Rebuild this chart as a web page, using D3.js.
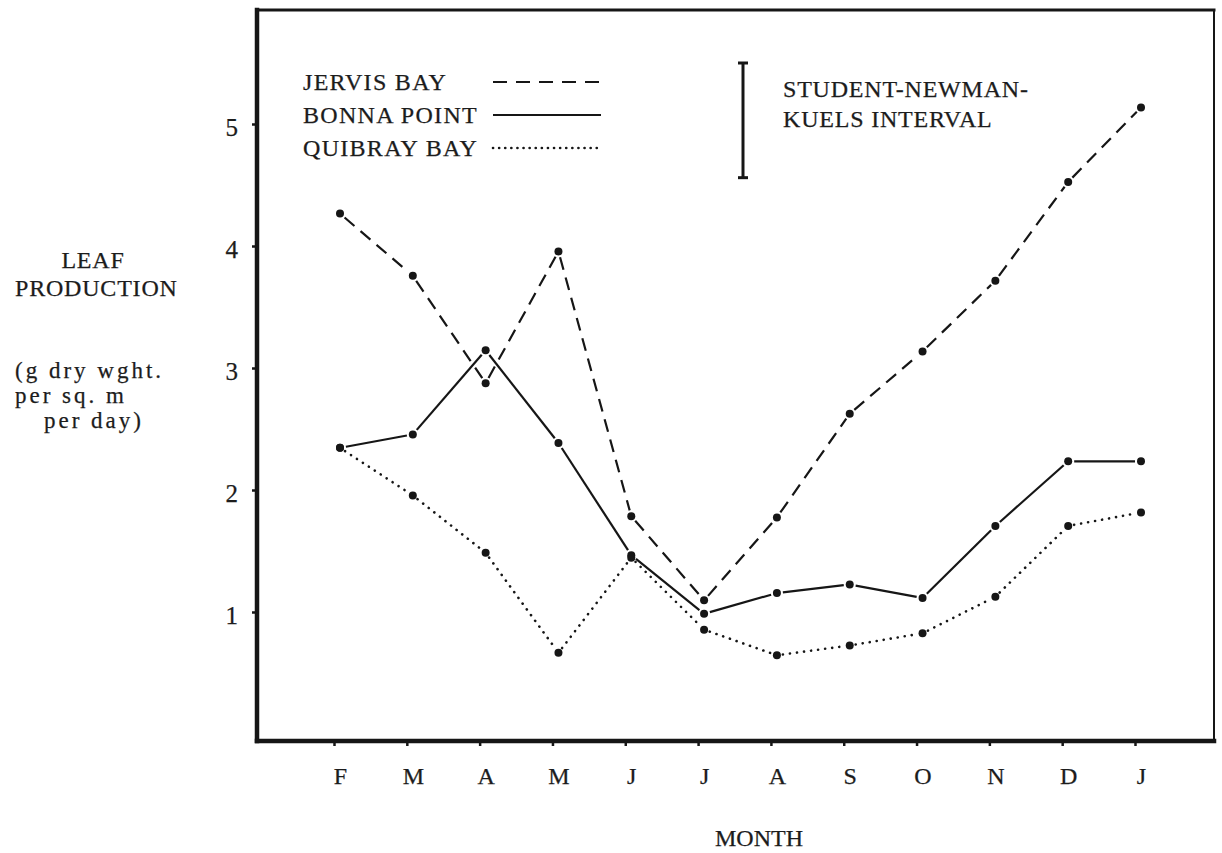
<!DOCTYPE html>
<html>
<head>
<meta charset="utf-8">
<script src="https://cdn.jsdelivr.net/npm/d3@7"></script>
<style>
body { margin: 0; background: #fff; }
svg text {
  font-family: "Liberation Serif", "Times New Roman", serif;
  font-size: 24px;
  fill: #1c1c1c;
  stroke: #1c1c1c;
  stroke-width: 0.25px;
}
</style>
</head>
<body>
<svg id="chart" width="1222" height="853"></svg>
<script>
// months Feb .. Jan
const months = ["F", "M", "A", "M", "J", "J", "A", "S", "O", "N", "D", "J"];
const monthKeys = d3.range(months.length);

// leaf production, g dry wght. per sq. m per day
const jervisBay = [4.29, 3.78, 2.90, 3.98, 1.81, 1.12, 1.80, 2.65, 3.16, 3.74, 4.55, 5.16];
const bonnaPoint = [2.37, 2.48, 3.17, 2.41, 1.49, 1.01, 1.18, 1.25, 1.14, 1.73, 2.26, 2.26];
const quibrayBay = [2.37, 1.98, 1.51, 0.69, 1.47, 0.88, 0.67, 0.75, 0.85, 1.15, 1.73, 1.84];

const yTicks = [1, 2, 3, 4, 5];
const snkInterval = 0.94;
const seriesNames = ["JERVIS BAY", "BONNA POINT", "QUIBRAY BAY"];
const snkLabel = ["STUDENT-NEWMAN-", "KUELS INTERVAL"];
const yLabelLines = ["LEAF", "PRODUCTION", "(g dry wght.", "per sq. m", "per day)"];
const xTitle = "MONTH";

const frame = { left: 257, right: 1214, top: 10, bottom: 741 };
const ink = "#161616";

const svg = d3.select("#chart");

const x = d3.scalePoint().domain(monthKeys).range([340, 1141]);
const y = d3.scaleLinear().domain([0, 5]).range([737, 127]);

// axes (ticks + labels only, frame drawn below)
const xAxis = svg.append("g")
    .attr("transform", `translate(0,${frame.bottom})`)
    .call(d3.axisBottom(x).tickSize(5).tickFormat(i => months[i]));
xAxis.select(".domain").remove();
xAxis.selectAll("line").attr("stroke", ink).attr("stroke-width", 2.5).attr("transform", "translate(-6,0)");
xAxis.selectAll("text").attr("y", 43).attr("dy", 0).attr("font-size", null).attr("font-family", null);

const yAxis = svg.append("g")
    .attr("transform", `translate(${frame.left},0)`)
    .call(d3.axisLeft(y).tickValues(yTicks).tickSize(5).tickPadding(14).tickFormat(d3.format("d")));
yAxis.select(".domain").remove();
yAxis.selectAll("line").attr("stroke", ink).attr("stroke-width", 2.5).attr("transform", "translate(0,-3)");
yAxis.selectAll("text").attr("dy", "0.33em").attr("font-size", null).attr("font-family", null)
    .style("font-size", "25px");

// frame
const border = svg.append("g").attr("stroke", ink).attr("fill", "none").attr("stroke-linecap", "square");
border.append("line").attr("x1", frame.left).attr("x2", frame.right).attr("y1", frame.top).attr("y2", frame.top).attr("stroke-width", 3);
border.append("line").attr("x1", frame.right).attr("x2", frame.right).attr("y1", frame.top).attr("y2", frame.bottom).attr("stroke-width", 2);
border.append("line").attr("x1", frame.left).attr("x2", frame.left).attr("y1", frame.top).attr("y2", frame.bottom).attr("stroke-width", 4.5);
border.append("line").attr("x1", frame.left).attr("x2", frame.right).attr("y1", frame.bottom).attr("y2", frame.bottom).attr("stroke-width", 4.5);

// series
const styles = [
    { dash: "13 8", width: 2.2, cap: "butt" },
    { dash: null, width: 2.2, cap: "butt" },
    { dash: "0.1 7", width: 2.6, cap: "round" }
];
const series = [jervisBay, bonnaPoint, quibrayBay];

function segments(vals, gap) {
    const pts = vals.map((v, i) => [x(i), y(v)]);
    return d3.pairs(pts).map(([a, b]) => {
        const dx = b[0] - a[0], dy = b[1] - a[1];
        const g = gap / Math.hypot(dx, dy);
        return [a[0] + dx * g, a[1] + dy * g, b[0] - dx * g, b[1] - dy * g];
    });
}

series.forEach((vals, k) => {
    const st = styles[k];
    const g = svg.append("g");
    g.selectAll("line")
        .data(segments(vals, 6))
        .enter().append("line")
        .attr("x1", d => d[0]).attr("y1", d => d[1])
        .attr("x2", d => d[2]).attr("y2", d => d[3])
        .attr("stroke", ink)
        .attr("stroke-width", st.width)
        .attr("stroke-linecap", st.cap)
        .attr("stroke-dasharray", st.dash);
    g.selectAll("circle")
        .data(vals)
        .enter().append("circle")
        .attr("cx", (d, i) => x(i))
        .attr("cy", d => y(d))
        .attr("r", 4)
        .attr("fill", ink);
});

// legend
const legend = svg.append("g");
seriesNames.forEach((name, k) => {
    const rowY = 82 + k * 33;
    legend.append("text").attr("x", 303).attr("y", rowY + 8)
        .style("letter-spacing", "1.3px")
        .text(name);
    legend.append("line")
        .attr("x1", 493).attr("x2", 601)
        .attr("y1", rowY).attr("y2", rowY)
        .attr("stroke", ink)
        .attr("stroke-width", styles[k].width)
        .attr("stroke-linecap", styles[k].cap)
        .attr("stroke-dasharray", k === 0 ? "14 9" : (k === 2 ? "0.1 6" : null));
});

// Student-Newman-Keuls interval bar
const snkTop = 63;
const snkLen = y(0) - y(snkInterval);
const snk = svg.append("g").attr("stroke", ink).attr("stroke-width", 3);
snk.append("line").attr("x1", 743).attr("x2", 743).attr("y1", snkTop).attr("y2", snkTop + snkLen);
snk.append("line").attr("x1", 738).attr("x2", 748).attr("y1", snkTop).attr("y2", snkTop);
snk.append("line").attr("x1", 738).attr("x2", 748).attr("y1", snkTop + snkLen).attr("y2", snkTop + snkLen);
snkLabel.forEach((t, i) => {
    svg.append("text").attr("x", 783).attr("y", 97 + i * 30)
        .style("letter-spacing", "0.8px")
        .text(t);
});

// y title
const yTitlePos = [[93, 268, "middle"], [15, 296, "start"], [15, 378, "start"], [15, 403, "start"], [44, 428, "start"]];
yLabelLines.forEach((t, i) => {
    const el = svg.append("text")
        .attr("x", yTitlePos[i][0])
        .attr("y", yTitlePos[i][1])
        .attr("text-anchor", yTitlePos[i][2])
        .text(t);
    if (i < 2) {
        el.style("letter-spacing", "0.8px");
    } else {
        el.style("font-size", "23px").style("letter-spacing", "3px");
    }
});

// x title
svg.append("text")
    .attr("x", 759)
    .attr("y", 846)
    .attr("text-anchor", "middle")
    .text(xTitle);
</script>
</body>
</html>
